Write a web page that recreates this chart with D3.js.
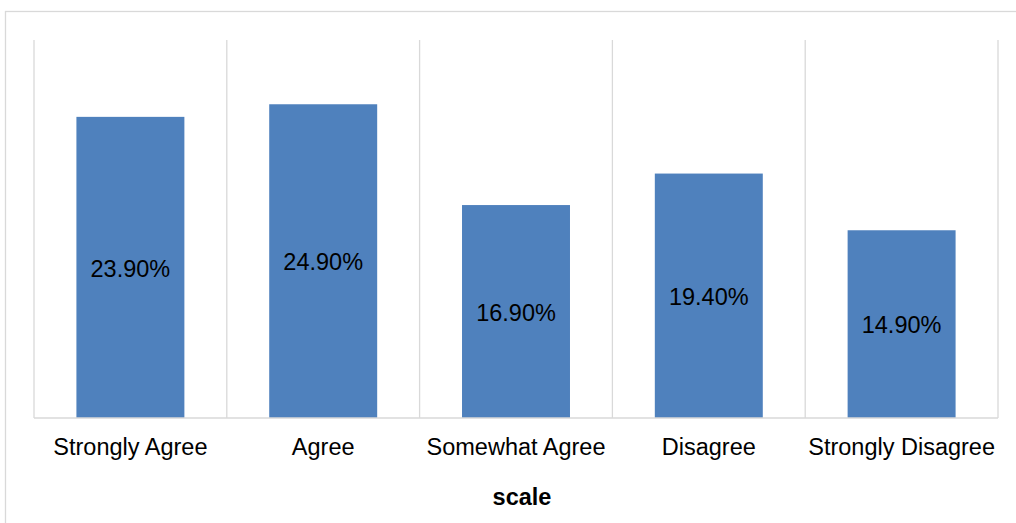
<!DOCTYPE html>
<html>
<head>
<meta charset="utf-8">
<script src="https://cdn.jsdelivr.net/npm/d3@7"></script>
<style>
  body { margin: 0; background: #fff; }
  text { font-family: "Liberation Sans", Arial, sans-serif; fill: #000; }
</style>
</head>
<body>
<div id="chart"></div>
<script>
//chart data
var categories = ['Strongly Agree', 'Agree', 'Somewhat Agree', 'Disagree', 'Strongly Disagree'];
var values = [23.9, 24.9, 16.9, 19.4, 14.9];
var yDomain = [0, 30];
var axisTitle = 'scale';

//Width and height
var w = 1016;
var h = 523;
var margin = { top: 40, right: 18, bottom: 105, left: 34 };

var svg = d3.select('#chart')
            .append('svg')
            .attr('width', w)
            .attr('height', h);

//outer chart border (only top and left show in the frame)
svg.append('rect')
   .attr('x', 5.5)
   .attr('y', 11.5)
   .attr('width', w + 20)
   .attr('height', h + 20)
   .attr('fill', 'none')
   .attr('stroke', '#d9d9d9')
   .attr('stroke-width', 1.3);

var x = d3.scaleBand()
          .domain(categories)
          .range([margin.left, w - margin.right])
          .paddingInner(0)
          .paddingOuter(0);

var y = d3.scaleLinear()
          .domain(yDomain)
          .range([h - margin.bottom, margin.top]);

//vertical gridlines at category boundaries
var bounds = categories.map(function (c) { return x(c); });
bounds.push(x(categories[categories.length - 1]) + x.bandwidth());

svg.selectAll('line.grid')
   .data(bounds)
   .enter()
   .append('line')
   .attr('class', 'grid')
   .attr('x1', function (d) { return d; })
   .attr('x2', function (d) { return d; })
   .attr('y1', y(yDomain[1]))
   .attr('y2', y(0))
   .attr('stroke', '#d9d9d9')
   .attr('stroke-width', 1.3);

//bars
var barW = x.bandwidth() * 0.56;
svg.selectAll('rect.bar')
   .data(values)
   .enter()
   .append('rect')
   .attr('class', 'bar')
   .attr('fill', '#4f81bd')
   .attr('x', function (d, i) { return x(categories[i]) + (x.bandwidth() - barW) / 2; })
   .attr('y', function (d) { return y(d); })
   .attr('width', barW)
   .attr('height', function (d) { return y(0) - y(d); });

//value labels, centred in each bar
svg.selectAll('text.val')
   .data(values)
   .enter()
   .append('text')
   .attr('class', 'val')
   .attr('x', function (d, i) { return x(categories[i]) + x.bandwidth() / 2; })
   .attr('y', function (d) { return (y(d) + y(0)) / 2 + 3; })
   .attr('text-anchor', 'middle')
   .attr('dominant-baseline', 'middle')
   .attr('font-size', 23.5)
   .text(function (d) { return d.toFixed(2) + '%'; });

//x axis baseline
svg.append('line')
   .attr('x1', x.range()[0])
   .attr('x2', x.range()[1])
   .attr('y1', y(0))
   .attr('y2', y(0))
   .attr('stroke', '#d9d9d9')
   .attr('stroke-width', 1.3);

var xAxis = d3.axisBottom(x).tickSize(0).tickPadding(20);
var gx = svg.append('g')
   .attr('transform', 'translate(0,' + y(0) + ')')
   .call(xAxis);
gx.select('.domain').remove();
gx.selectAll('text')
  .attr('font-size', 23.5)
  .attr('fill', '#000');

//axis title
svg.append('text')
   .attr('x', (x.range()[0] + x.range()[1]) / 2 + 6)
   .attr('y', 505)
   .attr('text-anchor', 'middle')
   .attr('font-size', 23.5)
   .attr('font-weight', 'bold')
   .text(axisTitle);
</script>
</body>
</html>
